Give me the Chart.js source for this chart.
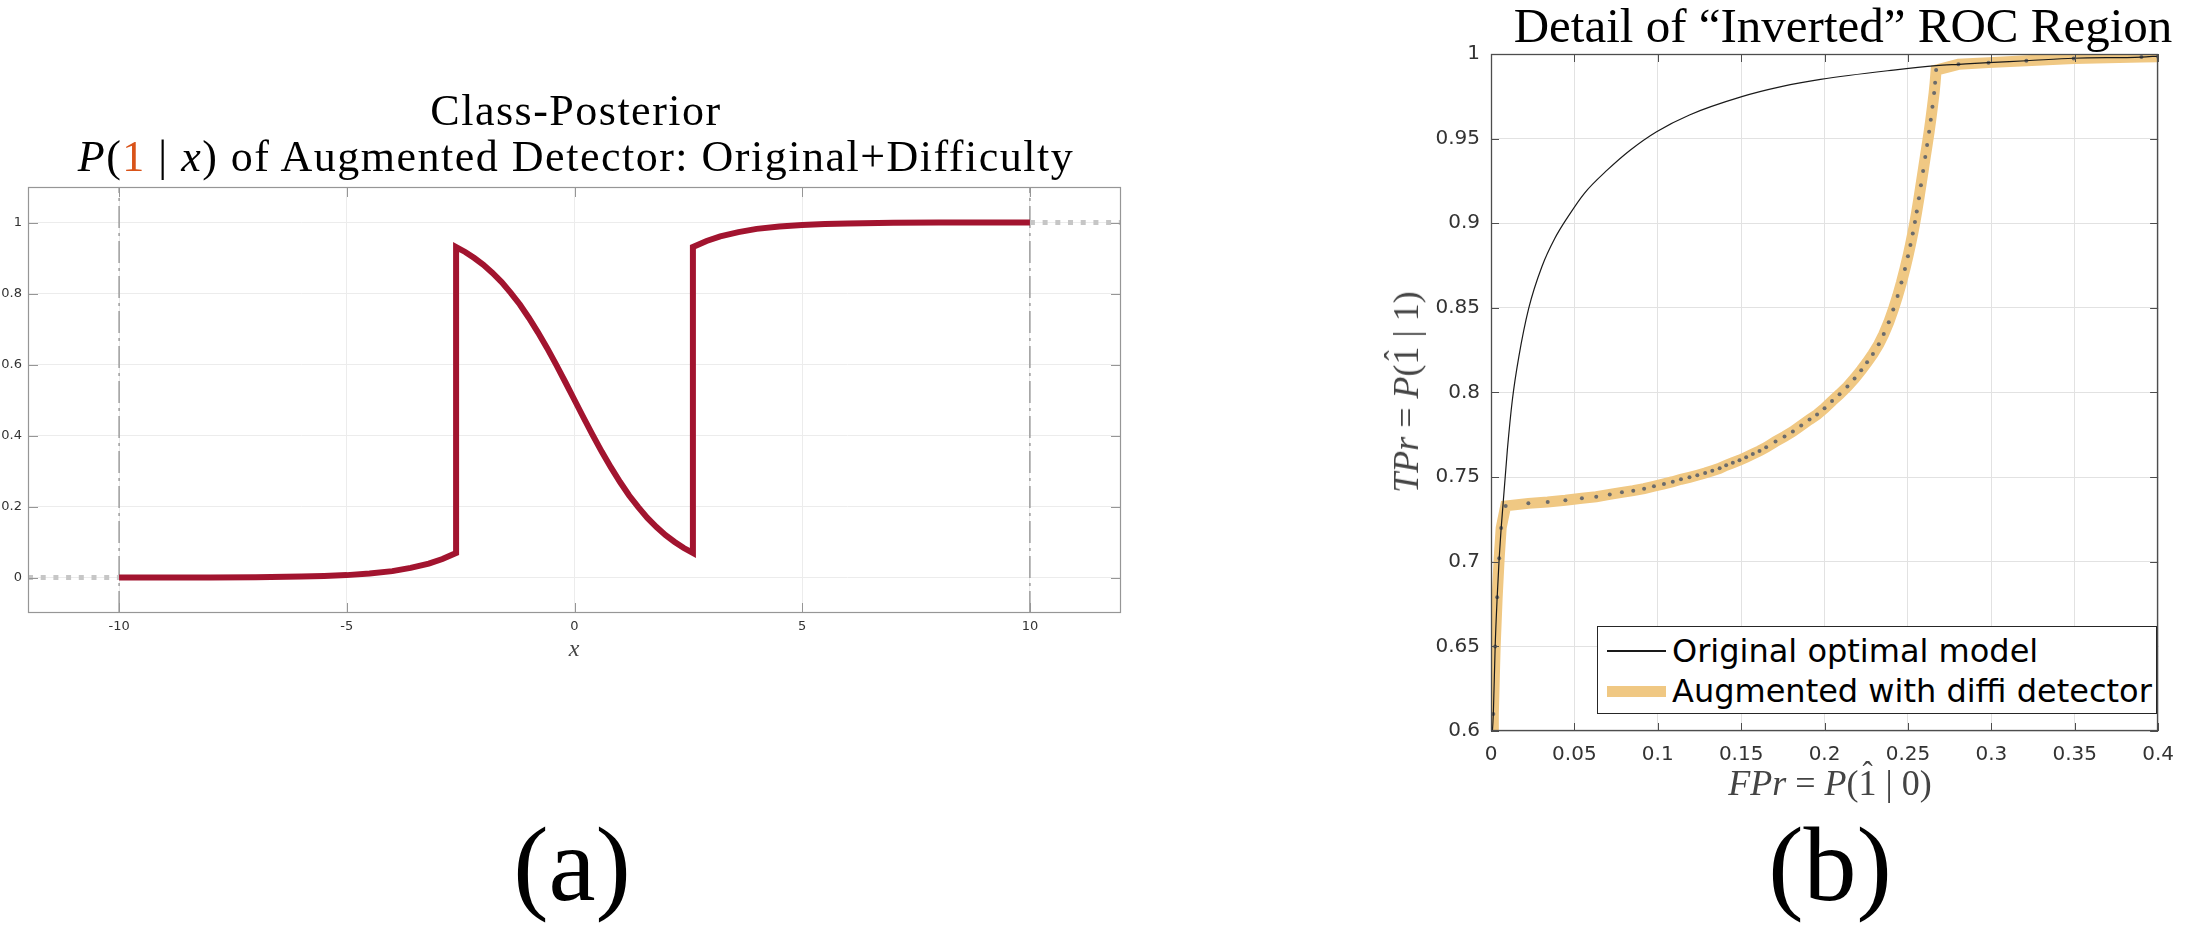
<!DOCTYPE html>
<html>
<head>
<meta charset="utf-8">
<title>Class posterior and inverted ROC detail</title>
<script src="https://cdn.jsdelivr.net/npm/chart.js@4.4.1/dist/chart.umd.min.js"></script>
<style>
    html, body { margin: 0; padding: 0; background: #fff; }
    body { width: 2186px; height: 940px; position: relative; overflow: hidden; }
    canvas { position: absolute; top: 0; }
    .abs { position: absolute; white-space: nowrap; line-height: 1; }
    .serif { font-family: 'Liberation Serif', serif; }
    .hat { position: relative; display: inline-block; font-style: normal; }
    .hat span { position: absolute; left: 0; right: 0; top: -0.22em; text-align: center; font-size: 0.85em; }
    #legendBox {
        position: absolute; left: 1597px; top: 626px; width: 560px; height: 88px;
        box-sizing: border-box; border: 1.3px solid #262626; background: #fff;
        font-family: 'DejaVu Sans', sans-serif; font-size: 32px; color: #000;
        padding-top: 4px; white-space: nowrap; overflow: hidden;
    }
    .legendRow { display: flex; align-items: center; height: 40px; }
    .legendLine { margin-left: 9px; width: 59px; flex: none; }
    .legendRow span { margin-left: 6px; }
</style>
</head>
<body>

<canvas id="posteriorChart" width="1150" height="700" style="left:0"></canvas>
<canvas id="rocChart" width="806" height="840" style="left:1380px"></canvas>

<!-- panel (a) texts -->
<div class="abs serif" style="left:576px;top:89px;font-size:44px;letter-spacing:1.5px;transform:translateX(-50%)">Class-Posterior</div>
<div class="abs serif" style="left:576px;top:135px;font-size:44px;letter-spacing:1.5px;transform:translateX(-50%)"><i>P</i>(<span style="color:#D95319">1</span> | <i>x</i>) of Augmented Detector: Original+Difficulty</div>
<div class="abs serif" style="left:574px;top:636px;font-size:24px;color:#444;transform:translateX(-50%)"><i>x</i></div>
<div class="abs serif" style="left:572px;top:812px;font-size:106px;transform:translateX(-50%)">(a)</div>

<!-- panel (b) texts -->
<div class="abs serif" style="left:1843px;top:1px;font-size:49px;transform:translateX(-50%)">Detail of “Inverted” ROC Region</div>
<div class="abs serif" style="left:1830px;top:765px;font-size:36px;color:#444;transform:translateX(-50%)"><i>FPr</i> = <i>P</i>(<span class="hat">1<span>ˆ</span></span> | 0)</div>
<div class="abs serif" style="left:1406px;top:392px;font-size:36px;color:#444;transform:translate(-50%,-50%) rotate(-90deg)"><i>TPr</i> = <i>P</i>(<span class="hat">1<span>ˆ</span></span> | 1)</div>
<div class="abs serif" style="left:1830px;top:812px;font-size:106px;transform:translateX(-50%)">(b)</div>

<div id="legendBox">
    <div class="legendRow"><div class="legendLine" style="height:1.3px;background:#1a1a1a"></div><span>Original optimal model</span></div>
    <div class="legendRow"><div class="legendLine" style="height:11px;background:#F0C883"></div><span>Augmented with diffi detector</span></div>
</div>

<script>
// ---- panel (a): class posterior of the augmented detector ----
const postX = [-10, -9, -8, -7, -6, -5.5, -5, -4.5, -4, -3.6, -3.2, -2.9, -2.6,
    -2.6, -2.4, -2.2, -2.0, -1.8, -1.6, -1.4, -1.2, -1.0, -0.8, -0.6, -0.4, -0.2, 0,
    0.2, 0.4, 0.6, 0.8, 1.0, 1.2, 1.4, 1.6, 1.8, 2.0, 2.2, 2.4, 2.6,
    2.6, 2.9, 3.2, 3.6, 4, 4.5, 5, 5.5, 6, 7, 8, 9, 10];
const postY = [0.000, 0.0001, 0.0003, 0.0009, 0.0025, 0.004, 0.0067, 0.011, 0.018, 0.027, 0.039, 0.052, 0.069,
    0.931, 0.917, 0.900, 0.881, 0.858, 0.832, 0.802, 0.769, 0.731, 0.690, 0.646, 0.599, 0.550, 0.500,
    0.450, 0.401, 0.354, 0.310, 0.269, 0.231, 0.198, 0.168, 0.142, 0.119, 0.100, 0.083, 0.069,
    0.931, 0.948, 0.961, 0.973, 0.982, 0.989, 0.993, 0.996, 0.9975, 0.9991, 0.9997, 0.9999, 1.000];

// grey dotted continuation outside the data range
const tailLeftX = [-12, -10];
const tailLeftY = [0, 0];
const tailRightX = [10, 12];
const tailRightY = [1, 1];

// dash-dot limit lines
const limitX = [-10, 10];

const postXTicks = [-10, -5, 0, 5, 10];
const postYTicks = [0, 0.2, 0.4, 0.6, 0.8, 1];
const postXRange = [-12, 12];
const postYRange = [-0.1, 1.1];

// ---- panel (b): ROC detail ----
const fprOrig = [0.0002, 0.0014, 0.0025, 0.0037, 0.0049, 0.0061, 0.0098, 0.0128, 0.0167, 0.0226,
    0.0305, 0.0383, 0.0462, 0.056, 0.0698, 0.0836, 0.0993, 0.119, 0.1504, 0.174,
    0.1976, 0.2413, 0.2669, 0.2806, 0.2983, 0.321, 0.3494, 0.390, 0.400];
const tprOrig = [0.592, 0.610, 0.650, 0.679, 0.702, 0.720, 0.766, 0.7956, 0.8212, 0.8497,
    0.8743, 0.8911, 0.9039, 0.9177, 0.9315, 0.9433, 0.9541, 0.964, 0.9748, 0.9807,
    0.985, 0.9905, 0.9931, 0.9939, 0.9949, 0.996, 0.9975, 0.9982, 0.9988];

const fprAug = [0.0012, 0.0014, 0.0025, 0.0037, 0.0049, 0.0061, 0.0088, 0.0224, 0.0340, 0.0446,
    0.0545, 0.0631, 0.0712, 0.0785, 0.0853, 0.0918, 0.0977, 0.1037, 0.1090, 0.1139,
    0.1190, 0.1237, 0.1284, 0.1327, 0.1371, 0.1410, 0.1450, 0.1490, 0.1530, 0.1570,
    0.1610, 0.1650, 0.1706, 0.1760, 0.1810, 0.1860, 0.1910, 0.1955, 0.2000, 0.2045,
    0.2090, 0.2137, 0.2180, 0.2220, 0.2255, 0.2290, 0.2325, 0.2355, 0.2385, 0.2412,
    0.2438, 0.2461, 0.2482, 0.2500, 0.2515, 0.2529, 0.2542, 0.2553, 0.2566, 0.2578,
    0.2591, 0.2604, 0.2615, 0.2627, 0.2637, 0.2647, 0.2657, 0.2663, 0.2669, 0.2803,
    0.2983, 0.3210, 0.3494, 0.3900, 0.4000];
const tprAug = [0.592, 0.610, 0.650, 0.679, 0.702, 0.720, 0.733, 0.7345, 0.7353, 0.7363,
    0.7375, 0.7384, 0.7398, 0.7410, 0.7420, 0.7432, 0.7446, 0.7460, 0.7473, 0.7487,
    0.7499, 0.7511, 0.7524, 0.7538, 0.7552, 0.7570, 0.7585, 0.7600, 0.7618, 0.7636,
    0.7655, 0.7676, 0.7710, 0.7740, 0.7770, 0.7805, 0.7840, 0.7870, 0.7907, 0.7950,
    0.7990, 0.8035, 0.8083, 0.8132, 0.8178, 0.8228, 0.8285, 0.8345, 0.8415, 0.8490,
    0.8570, 0.8650, 0.8730, 0.8805, 0.8872, 0.8940, 0.9008, 0.9070, 0.9148, 0.9225,
    0.9308, 0.9392, 0.9462, 0.9540, 0.9612, 0.9688, 0.9770, 0.9830, 0.9905, 0.9939,
    0.9949, 0.9960, 0.9973, 0.9982, 0.9984];

const rocXTicks = [0, 0.05, 0.1, 0.15, 0.2, 0.25, 0.3, 0.35, 0.4];
const rocYTicks = [0.6, 0.65, 0.7, 0.75, 0.8, 0.85, 0.9, 0.95, 1];

const toPoints = (xs, ys) => xs.map((x, i) => ({ x: x, y: ys[i] }));

// draws the axes box with inward ticks on all four sides (matlab style)
const boxTicks = {
    id: 'boxTicks',
    afterDatasetsDraw(chart, args, opts) {
        const ctx = chart.ctx;
        const a = chart.chartArea;
        const xs = chart.scales.x;
        const ys = chart.scales.y;
        ctx.save();
        ctx.strokeStyle = opts.color;
        ctx.lineWidth = 1;
        ctx.beginPath();
        xs.ticks.forEach(t => {
            const p = Math.round(xs.getPixelForValue(t.value)) + 0.5;
            ctx.moveTo(p, a.bottom);
            ctx.lineTo(p, a.bottom - opts.len);
            ctx.moveTo(p, a.top);
            ctx.lineTo(p, a.top + opts.len);
        });
        ys.ticks.forEach(t => {
            const p = Math.round(ys.getPixelForValue(t.value)) + 0.5;
            ctx.moveTo(a.left, p);
            ctx.lineTo(a.left + opts.len, p);
            ctx.moveTo(a.right, p);
            ctx.lineTo(a.right - opts.len, p);
        });
        ctx.stroke();
        ctx.lineWidth = opts.width;
        ctx.strokeRect(Math.round(a.left) + 0.5, Math.round(a.top) + 0.5,
            Math.round(a.right - a.left) - 1, Math.round(a.bottom - a.top) - 1);
        ctx.restore();
    }
};

function axis(min, max, ticks, gridColor, font, pad, size, horizontal) {
    return {
        type: 'linear',
        min: min,
        max: max,
        afterBuildTicks: s => { s.ticks = ticks.map(v => ({ value: v })); },
        afterFit: s => {
            if (horizontal) s.height = size;
            else s.width = size;
        },
        grid: { color: gridColor, lineWidth: 1, drawTicks: false },
        border: { display: false },
        ticks: {
            autoSkip: false,
            maxRotation: 0,
            padding: pad,
            color: '#333',
            font: { family: 'DejaVu Sans', size: font },
            callback: v => String(v)
        }
    };
}

Chart.defaults.animation = false;

new Chart(document.getElementById('posteriorChart'), {
    type: 'scatter',
    data: {
        datasets: [
            {
                data: toPoints(postX, postY),
                showLine: true,
                borderColor: '#A2142F',
                borderWidth: 6,
                pointRadius: 0,
                tension: 0
            },
            {
                data: toPoints(tailLeftX, tailLeftY),
                showLine: true,
                borderColor: '#c6c6c6',
                borderWidth: 5,
                borderDash: [5, 7.7],
                pointRadius: 0
            },
            {
                data: toPoints(tailRightX, tailRightY),
                showLine: true,
                borderColor: '#c6c6c6',
                borderWidth: 5,
                borderDash: [5, 7.7],
                pointRadius: 0
            },
            ...limitX.map(v => ({
                data: toPoints([v, v], postYRange),
                showLine: true,
                borderColor: '#8f8f8f',
                borderWidth: 1.3,
                borderDash: [22, 5, 3, 5],
                pointRadius: 0
            }))
        ]
    },
    options: {
        responsive: false,
        devicePixelRatio: 1,
        layout: { padding: { left: 0, right: 29, top: 187, bottom: 47 } },
        scales: {
            x: axis(postXRange[0], postXRange[1], postXTicks, '#ececec', 13, 6, 40, true),
            y: axis(postYRange[0], postYRange[1], postYTicks, '#ececec', 13, 6, 28, false)
        },
        plugins: {
            legend: { display: false },
            tooltip: { enabled: false },
            boxTicks: { color: '#969696', width: 1.2, len: 10 }
        }
    },
    plugins: [boxTicks]
});

new Chart(document.getElementById('rocChart'), {
    type: 'scatter',
    data: {
        datasets: [
            {
                label: 'Original optimal model',
                data: toPoints(fprOrig, tprOrig),
                showLine: true,
                borderColor: '#1a1a1a',
                borderWidth: 1.2,
                pointRadius: 0,
                cubicInterpolationMode: 'monotone',
                clip: 0
            },
            {
                label: 'Augmented with diffi detector',
                data: toPoints(fprAug, tprAug),
                showLine: true,
                borderColor: '#F0C883',
                borderWidth: 11,
                pointRadius: 2,
                pointBorderWidth: 0,
                pointBackgroundColor: '#6b6b6b',
                tension: 0,
                clip: 0
            }
        ]
    },
    options: {
        responsive: false,
        devicePixelRatio: 1,
        layout: { padding: { left: 0, right: 17, top: 54, bottom: 69 } },
        scales: {
            x: axis(0, 0.4, rocXTicks, '#e2e2e2', 20, 12, 40, true),
            y: axis(0.6, 1, rocYTicks, '#e2e2e2', 20, 11, 111, false)
        },
        plugins: {
            legend: { display: false },
            tooltip: { enabled: false },
            boxTicks: { color: '#4d4d4d', width: 1.3, len: 8 }
        }
    },
    plugins: [boxTicks]
});
</script>
</body>
</html>
